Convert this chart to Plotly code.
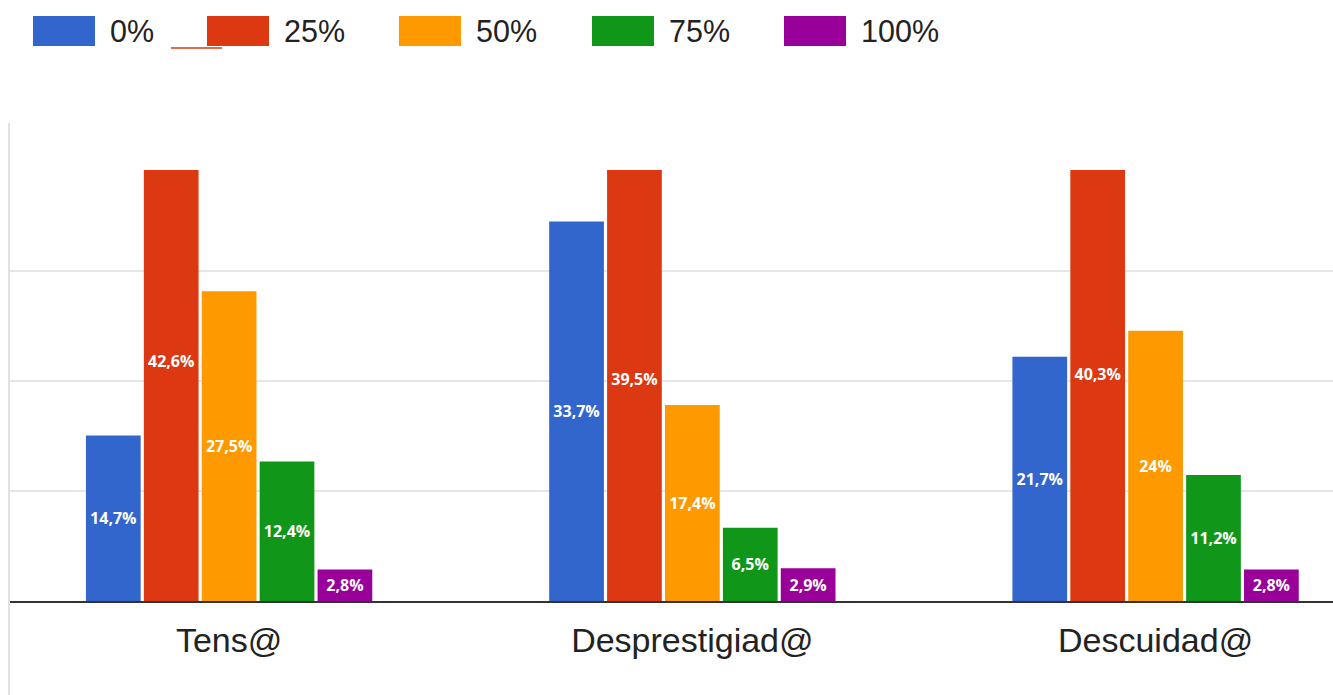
import plotly.graph_objects as go

# ---- data -------------------------------------------------------------
categories = ["Tens@", "Desprestigiad@", "Descuidad@"]
series_names = ["0%", "25%", "50%", "75%", "100%"]
values_0 = [14.7, 33.7, 21.7]
values_25 = [42.6, 39.5, 40.3]
values_50 = [27.5, 17.4, 24.0]
values_75 = [12.4, 6.5, 11.2]
values_100 = [2.8, 2.9, 2.8]
series_values = [values_0, values_25, values_50, values_75, values_100]
series_colors = ["#3366CC", "#DC3912", "#FF9900", "#109618", "#990099"]

# ---- layout geometry ---------------------------------------------------
W, H = 1333, 695
ML, MR, MT, MB = 10, 0, 170, 94
PW, PH = W - ML - MR, H - MT - MB
Y_TOP = 38.28          # value shown at the top edge of the plot area
GRID_STEP = 9.78       # spacing of horizontal gridlines
X_RANGE = [-0.473, 2.383]


def px_x(px):
    return (px - ML) / PW


def px_y(py):
    return (H - MB - py) / PH


def pct_label(v):
    return f"{v:g}".replace(".", ",") + "%"


fig = go.Figure()
for name, vals, color in zip(series_names, series_values, series_colors):
    fig.add_trace(go.Bar(
        x=categories,
        y=vals,
        name=name,
        marker=dict(color=color, line=dict(width=0)),
        text=[pct_label(v) for v in vals],
        textposition="inside",
        insidetextanchor="middle",
        textangle=0,
        textfont=dict(family="Open Sans", size=16, color="white", weight="bold"),
        showlegend=False,
        cliponaxis=True,
    ))

shapes = []
annotations = []

# custom legend row: wide colour swatches with labels
legend_x = [33, 207, 399, 592, 784]
for x0, name, color in zip(legend_x, series_names, series_colors):
    shapes.append(dict(
        type="rect", xref="paper", yref="paper",
        x0=px_x(x0), x1=px_x(x0 + 62), y0=px_y(46), y1=px_y(16),
        fillcolor=color, line=dict(width=0), layer="above",
    ))
    annotations.append(dict(
        xref="paper", yref="paper", x=px_x(x0 + 75), y=px_y(31),
        xanchor="left", yanchor="middle", showarrow=False,
        text=name, font=dict(family="Liberation Sans, Arial", size=30.5, color="#222222"),
    ))

# small red underline stroke near the legend
shapes.append(dict(
    type="line", xref="paper", yref="paper",
    x0=px_x(171), x1=px_x(222), y0=px_y(48), y1=px_y(48),
    line=dict(color="#DC3912", width=1.6),
))

# light vertical frame line on the left
shapes.append(dict(
    type="line", xref="paper", yref="paper",
    x0=px_x(9), x1=px_x(9), y0=px_y(123), y1=px_y(H),
    line=dict(color="#E2E2E6", width=2),
))

fig.update_layout(
    width=W, height=H, autosize=False,
    margin=dict(l=ML, r=MR, t=MT, b=MB, pad=0),
    paper_bgcolor="white", plot_bgcolor="white",
    barmode="group", bargap=0.375, bargroupgap=0.055,
    shapes=shapes, annotations=annotations,
    xaxis=dict(
        type="category", range=X_RANGE,
        showline=True, linecolor="#333333", linewidth=2,
        showgrid=False, ticks="", ticklabelstandoff=8,
        tickfont=dict(family="Liberation Sans, Arial", size=34, color="#222222"),
    ),
    yaxis=dict(
        range=[0, Y_TOP],
        tickvals=[GRID_STEP, 2 * GRID_STEP, 3 * GRID_STEP],
        showticklabels=False, showgrid=True,
        gridcolor="#E6E6E6", gridwidth=2, zeroline=False,
    ),
    uniformtext=dict(minsize=8, mode="show"),
)

fig.write_html("out.html")
